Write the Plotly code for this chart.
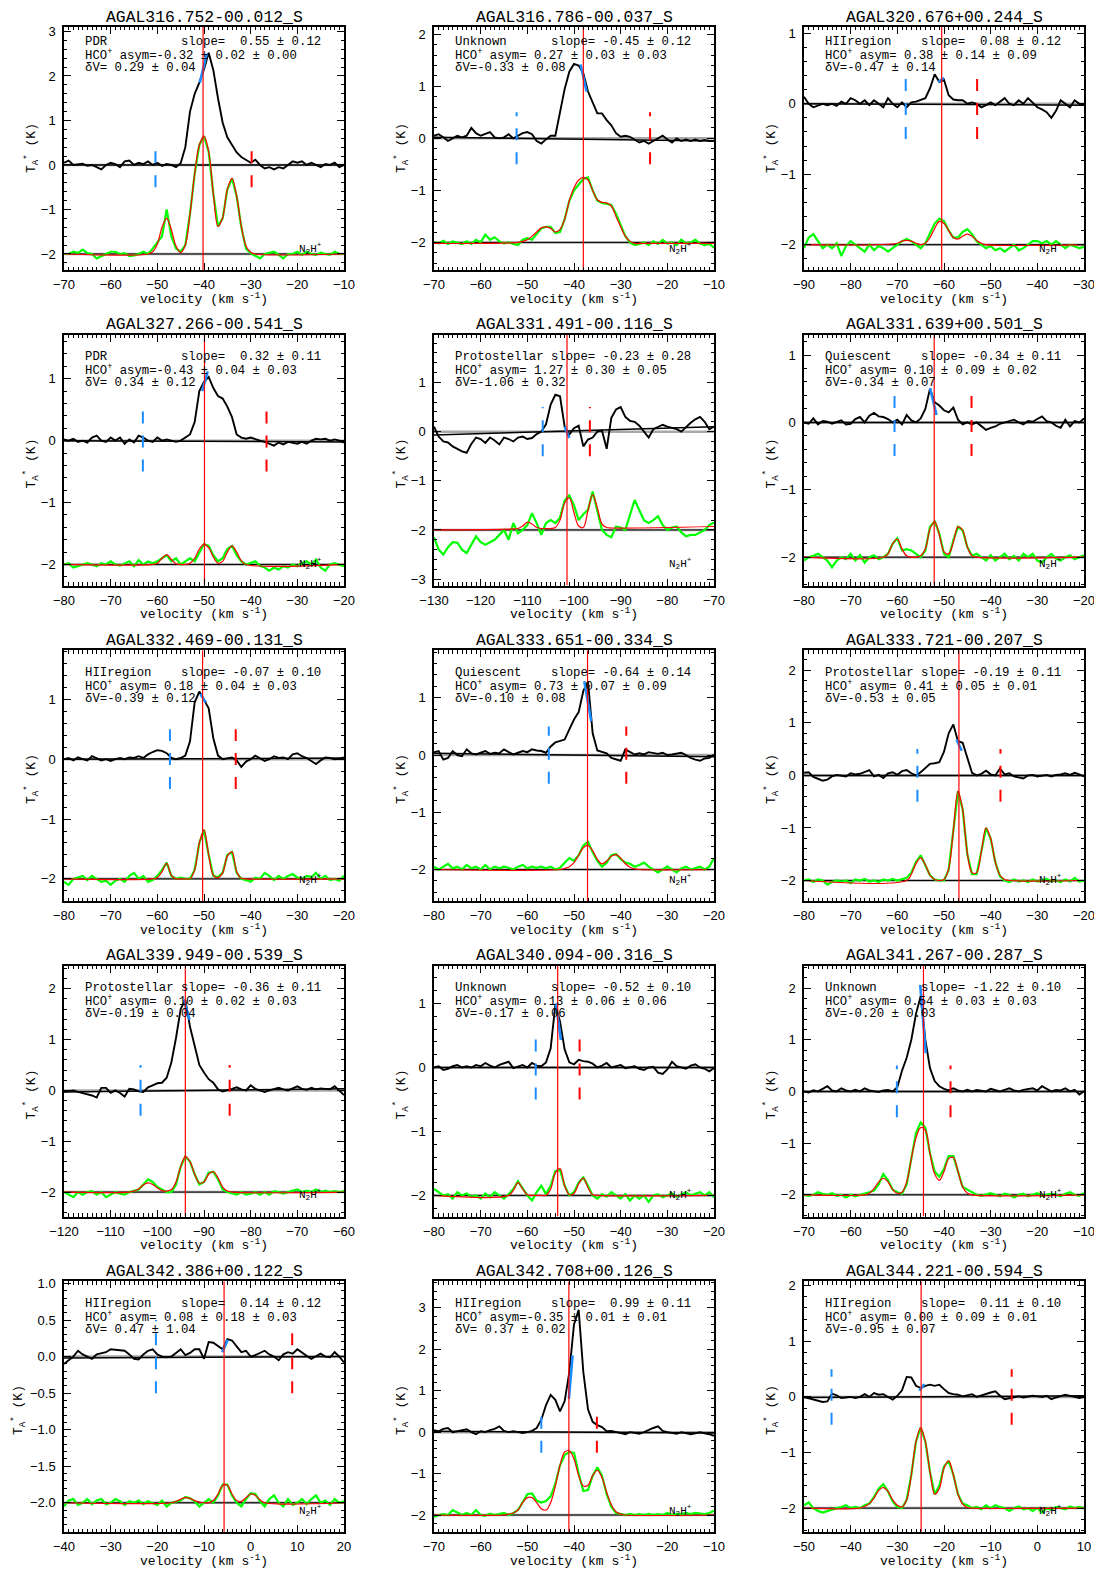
import plotly.graph_objects as go

# reference geometry in pixels; the page body adds an 8px margin, so the
# figure is made 8px smaller and every reference position is shifted by it
PAGE_W, PAGE_H = 1102, 1576
BODY = 8
W, H = PAGE_W - BODY, PAGE_H - BODY
COL_X = [64, 434, 804]
ROW_Y = [27.0, 334.8, 650.3, 965.8, 1281.3]
ROW_B = [270.0, 585.5, 901.0, 1216.5, 1532.0]
TITLE_GAP = [9, 10, 10, 10, 10]
PW = 280
MONO = "Liberation Mono"
SANS = "Liberation Sans"
NB = "\u00a0"

BLUE = "#1a8cff"
GREEN = "#00ff00"
RED = "#ff0000"

chan_width = 1.0  # km/s, spectra below are sampled on this grid starting at v_lo

titles = ["AGAL316.752-00.012_S", "AGAL316.786-00.037_S", "AGAL320.676+00.244_S",
          "AGAL327.266-00.541_S", "AGAL331.491-00.116_S", "AGAL331.639+00.501_S",
          "AGAL332.469-00.131_S", "AGAL333.651-00.334_S", "AGAL333.721-00.207_S",
          "AGAL339.949-00.539_S", "AGAL340.094-00.316_S", "AGAL341.267-00.287_S",
          "AGAL342.386+00.122_S", "AGAL342.708+00.126_S", "AGAL344.221-00.594_S"]
classes = ["PDR", "Unknown", "HIIregion", "PDR", "Protostellar", "Quiescent",
           "HIIregion", "Quiescent", "Protostellar", "Protostellar", "Unknown", "Unknown",
           "HIIregion", "HIIregion", "HIIregion"]
slopes = [0.55, -0.45, 0.08, 0.32, -0.23, -0.34, -0.07, -0.64, -0.19, -0.36, -0.52, -1.22, 0.14, 0.99, 0.11]
slope_errs = [0.12, 0.12, 0.12, 0.11, 0.28, 0.11, 0.10, 0.14, 0.11, 0.11, 0.10, 0.10, 0.12, 0.11, 0.10]
asyms = [-0.32, 0.27, 0.38, -0.43, 1.27, 0.10, 0.18, 0.73, 0.41, 0.10, 0.13, 0.54, 0.08, -0.35, 0.00]
asym_err1 = [0.02, 0.03, 0.14, 0.04, 0.30, 0.09, 0.04, 0.07, 0.05, 0.02, 0.06, 0.03, 0.18, 0.01, 0.09]
asym_err2 = [0.00, 0.03, 0.09, 0.03, 0.05, 0.02, 0.03, 0.09, 0.01, 0.03, 0.06, 0.03, 0.03, 0.01, 0.01]
dvs = [0.29, -0.33, -0.47, 0.34, -1.06, -0.34, -0.39, -0.10, -0.53, -0.19, -0.17, -0.20, 0.47, 0.37, -0.95]
dv_errs = [0.04, 0.08, 0.14, 0.12, 0.32, 0.07, 0.12, 0.08, 0.05, 0.04, 0.06, 0.03, 1.04, 0.02, 0.07]

v_lo = [-70, -70, -90, -80, -130, -80, -80, -80, -80, -120, -80, -70, -40, -70, -50]
v_hi = [-10, -10, -30, -20, -70, -20, -20, -20, -20, -60, -20, -10, 20, -10, 10]
y_lo = [-2.36, -2.53, -2.36, -2.34, -3.13, -2.42, -2.37, -2.55, -2.39, -2.48, -2.33, -2.42, -2.40, -2.41, -2.43]
y_hi = [3.10, 2.14, 1.09, 1.71, 1.97, 1.30, 1.82, 1.83, 2.38, 2.45, 1.59, 2.43, 1.03, 3.64, 2.08]

v_sys = [-40.2, -38.0, -60.5, -49.9, -101.5, -52.1, -50.3, -47.1, -46.8, -94.0, -53.5, -44.4, -5.7, -41.1, -24.9]
v_blue = [-50.4, -52.3, -68.2, -63.1, -106.7, -60.6, -57.3, -55.4, -55.7, -103.6, -58.2, -50.1, -20.3, -47.0, -44.1]
v_red = [-29.8, -23.7, -52.9, -36.6, -96.6, -44.1, -43.2, -38.8, -37.9, -84.5, -48.8, -38.6, 8.9, -35.1, -5.5]

# fitted slope segment on the HCO+ line (start / end)
slope_v1 = [-40.9, -38.6, -61.2, -50.4, -102.0, -53.0, -50.8, -47.8, -47.3, -94.3, -53.9, -45.1, -6.1, -41.1, -25.3]
slope_t1 = [1.85, 1.42, 0.31, 0.80, 0.10, 0.51, 1.09, 1.29, 0.68, 1.78, 1.00, 2.06, 0.06, 0.80, 0.11]
slope_v2 = [-39.4, -37.3, -60.0, -49.2, -101.0, -51.6, -49.6, -46.3, -46.2, -93.1, -52.8, -43.9, -4.9, -40.3, -24.2]
slope_t2 = [2.50, 0.90, 0.37, 1.12, -0.13, 0.11, 0.95, 0.59, 0.47, 1.39, 0.43, 0.74, 0.23, 1.85, 0.23]

# HCO+ baseline at the left / right edge
base_l = [0.0, 0.02, 0.0, 0.0, -0.07, 0.0, 0.0, 0.03, 0.0, -0.03, 0.0, 0.0, -0.02, 0.02, -0.01]
base_r = [0.0, -0.05, -0.02, -0.02, 0.10, 0.0, 0.02, -0.03, 0.0, 0.03, 0.0, 0.0, 0.0, -0.02, 0.02]

# N2H+ fit: first channel of the fitted region and baseline at the edges
fit_start = [-52, -52, -70, -61, -113, -63, -61, -53, -58, -106, -64, -57, -17, -55, -38]
fit_edge_l = [0.0, -0.02, 0.0, 0.0, 0.0, 0.0, 0.0, 0.0, 0.0, 0.0, 0.0, 0.0, 0.0, 0.0, 0.0]
fit_edge_r = [0.0, -0.02, 0.0, 0.0, 0.07, 0.0, 0.0, 0.0, 0.0, 0.0, 0.0, 0.0, 0.0, 0.0, 0.0]

# ---- HCO+ spectra (K) ----
hco_01 = [0.05, 0.10, 0.00, 0.02, 0.03, -0.02, 0.00, -0.05, -0.10, 0.00,
          0.05, 0.02, -0.05, 0.08, 0.10, 0.00, 0.05, 0.02, 0.08, 0.00,
          0.05, -0.02, 0.02, 0.00, -0.05, 0.04, 0.40, 1.20, 1.60, 1.85,
          2.15, 2.52, 2.13, 1.50, 0.95, 0.62, 0.45, 0.28, 0.18, 0.12,
          0.05, 0.12, 0.00, -0.08, -0.05, -0.10, -0.05, -0.08, 0.00, 0.08,
          0.05, 0.08, 0.00, 0.05, 0.00, -0.05, 0.02, 0.00, 0.05, -0.05, 0.00]
hco_02 = [0.05, 0.08, 0.02, -0.05, 0.00, 0.05, 0.02, 0.05, 0.20, 0.10,
          0.05, 0.08, 0.12, 0.02, 0.00, 0.02, 0.08, 0.00, 0.05, 0.10,
          0.12, 0.08, -0.05, -0.10, -0.02, 0.05, 0.05, 0.50, 0.95, 1.28,
          1.43, 1.40, 1.25, 0.90, 0.70, 0.48, 0.48, 0.35, 0.25, 0.10,
          0.03, 0.05, 0.03, -0.02, -0.08, -0.05, -0.10, -0.05, 0.00, 0.05,
          -0.02, -0.08, 0.00, -0.05, -0.02, -0.05, -0.02, -0.05, -0.03, -0.05, -0.05]
hco_03 = [0.10, 0.00, -0.05, -0.03, 0.00, -0.02, 0.00, -0.03, 0.03, 0.00,
          0.08, 0.05, 0.00, 0.05, -0.02, 0.05, 0.00, -0.05, 0.08, 0.00,
          -0.05, 0.02, -0.05, 0.02, 0.03, 0.05, 0.08, 0.22, 0.42, 0.31,
          0.34, 0.12, 0.06, 0.05, 0.05, 0.00, 0.02, 0.00, -0.05, -0.02,
          0.02, -0.02, 0.03, 0.08, 0.00, -0.02, 0.05, 0.00, 0.08, 0.02,
          -0.05, -0.08, -0.12, -0.20, -0.10, 0.05, 0.00, -0.05, 0.05, 0.00, -0.02]
hco_04 = [0.02, 0.00, 0.03, -0.02, 0.00, -0.03, 0.05, 0.08, 0.00, -0.02,
          0.05, 0.00, 0.05, -0.05, 0.02, -0.03, 0.08, 0.05, 0.00, -0.02,
          0.05, 0.00, 0.02, 0.00, -0.02, 0.00, 0.05, 0.10, 0.30, 0.80,
          0.95, 1.03, 0.85, 0.72, 0.68, 0.55, 0.38, 0.10, 0.05, 0.03,
          0.05, 0.02, 0.00, -0.02, -0.05, -0.08, -0.03, -0.06, -0.02, -0.04,
          -0.05, -0.02, -0.05, 0.00, 0.03, 0.02, 0.03, 0.00, 0.02, 0.00, -0.03]
hco_05 = [0.10, -0.10, -0.20, -0.22, -0.30, -0.35, -0.40, -0.43, -0.25, -0.12,
          -0.15, -0.23, -0.12, -0.18, -0.26, -0.12, -0.15, -0.20, -0.12, -0.10,
          -0.15, -0.13, -0.05, 0.00, 0.15, 0.55, 0.75, 0.72, 0.10, -0.06,
          0.07, 0.12, -0.30, -0.16, -0.12, 0.00, 0.02, -0.35, 0.28, 0.45,
          0.50, 0.30, 0.22, 0.20, 0.12, 0.00, -0.12, 0.05, 0.10, 0.14,
          0.10, 0.07, 0.05, 0.00, 0.10, 0.18, 0.25, 0.30, 0.20, 0.05, 0.10]
hco_06 = [0.00, -0.02, 0.06, -0.03, 0.02, 0.01, -0.02, 0.00, 0.03, -0.03,
          -0.02, 0.05, 0.08, 0.00, 0.10, 0.14, 0.09, 0.08, 0.05, 0.00,
          0.04, -0.03, 0.11, 0.03, 0.00, 0.06, 0.20, 0.50, 0.30, 0.25,
          0.18, 0.15, 0.22, 0.04, -0.03, 0.00, -0.03, 0.00, -0.05, -0.11,
          -0.08, -0.06, -0.02, 0.00, 0.03, 0.04, 0.00, -0.03, 0.02, 0.01,
          0.05, 0.09, 0.02, 0.00, -0.05, -0.08, 0.04, -0.06, 0.02, 0.00, 0.06]
hco_07 = [0.00, 0.02, -0.02, 0.03, 0.00, -0.02, 0.05, 0.02, -0.02, 0.00,
          -0.03, 0.00, 0.02, 0.00, 0.03, 0.02, 0.05, 0.02, 0.08, 0.12,
          0.15, 0.14, 0.10, 0.02, 0.00, 0.02, 0.06, 0.30, 0.95, 1.13,
          1.00, 0.85, 0.35, 0.06, 0.00, 0.02, 0.03, -0.02, -0.13, -0.04,
          0.00, 0.06, 0.02, -0.03, 0.00, 0.05, 0.02, 0.03, 0.00, 0.08,
          0.10, 0.05, 0.02, -0.03, -0.08, -0.02, 0.03, 0.02, 0.00, 0.01, 0.03]
hco_08 = [0.05, 0.07, -0.08, -0.05, 0.07, 0.00, -0.02, 0.10, 0.03, 0.01,
          0.04, 0.07, 0.02, 0.04, 0.03, 0.10, 0.05, 0.01, 0.04, 0.07,
          0.05, 0.10, 0.08, 0.07, 0.04, 0.15, 0.22, 0.25, 0.27, 0.45,
          0.62, 0.75, 1.12, 1.28, 0.38, 0.08, 0.05, 0.03, -0.05, -0.08,
          -0.10, 0.10, 0.05, 0.01, 0.03, 0.01, 0.05, 0.04, 0.02, 0.04,
          0.00, 0.01, 0.03, 0.04, 0.00, -0.05, -0.08, -0.10, -0.06, -0.05, 0.01]
hco_09 = [0.05, 0.06, -0.03, -0.06, -0.10, -0.08, -0.02, 0.01, 0.00, -0.02,
          0.04, 0.02, 0.03, 0.06, 0.10, -0.02, 0.01, -0.05, 0.04, 0.06,
          0.01, 0.08, 0.10, 0.04, 0.00, 0.06, 0.15, 0.22, 0.23, 0.25,
          0.45, 0.80, 0.97, 0.65, 0.62, 0.35, 0.05, 0.00, 0.03, 0.09,
          0.02, 0.00, 0.13, 0.02, 0.04, -0.02, -0.04, -0.06, 0.00, 0.01,
          -0.02, 0.00, 0.01, -0.02, 0.01, 0.02, 0.04, 0.01, 0.05, 0.02, -0.02]
hco_10 = [-0.03, -0.02, 0.00, -0.03, -0.05, -0.08, -0.10, -0.14, 0.05, 0.05,
          -0.05, 0.00, -0.05, -0.12, 0.03, 0.02, -0.02, -0.03, 0.06, 0.10,
          0.14, 0.15, 0.25, 0.55, 1.03, 1.60, 1.78, 1.25, 0.85, 0.50,
          0.35, 0.22, 0.15, 0.02, -0.02, 0.00, 0.03, 0.06, 0.02, 0.00,
          0.10, 0.03, 0.00, -0.03, 0.00, 0.02, 0.05, 0.02, 0.00, 0.04,
          0.08, 0.03, 0.01, 0.05, 0.02, 0.04, 0.03, 0.02, 0.08, 0.00, -0.09]
hco_11 = [0.00, 0.02, -0.04, -0.02, 0.02, 0.04, 0.00, 0.02, 0.00, 0.04,
          0.02, 0.07, 0.03, 0.00, 0.04, 0.07, 0.09, -0.01, 0.02, 0.04,
          0.00, 0.07, 0.03, 0.02, 0.08, 0.30, 0.98, 0.72, 0.28, 0.08,
          0.05, 0.12, 0.10, 0.09, 0.06, 0.00, 0.03, 0.07, 0.00, 0.02,
          0.04, -0.01, 0.00, 0.02, -0.02, -0.04, 0.00, 0.01, -0.08, -0.10,
          -0.03, 0.09, 0.02, 0.00, -0.02, 0.03, 0.05, 0.00, -0.02, -0.06, -0.01]
hco_12 = [0.00, -0.02, 0.02, 0.00, 0.05, 0.10, 0.02, 0.00, 0.06, 0.02,
          0.00, 0.03, 0.00, 0.06, 0.02, 0.00, -0.01, 0.02, 0.03, 0.00,
          0.08, 0.40, 0.65, 1.00, 1.50, 1.84, 1.00, 0.45, 0.20, 0.10,
          0.05, 0.02, 0.06, 0.02, 0.00, 0.03, 0.00, 0.03, 0.01, 0.00,
          0.05, 0.02, 0.00, 0.03, 0.06, 0.02, 0.00, 0.03, 0.05, 0.06,
          0.02, 0.10, 0.05, 0.00, 0.03, 0.02, 0.06, 0.00, 0.03, -0.06, 0.00]
hco_13 = [-0.10, -0.05, 0.00, 0.08, 0.03, 0.00, -0.03, 0.03, 0.05, 0.06,
          0.10, 0.09, 0.08, 0.08, 0.03, -0.03, -0.04, 0.03, 0.08, 0.10,
          0.03, 0.00, -0.01, 0.00, 0.05, 0.10, 0.02, 0.05, 0.10, 0.10,
          -0.03, 0.20, 0.19, 0.14, 0.10, 0.24, 0.22, 0.14, 0.06, 0.08,
          0.00, 0.02, 0.05, 0.08, 0.03, 0.00, -0.05, 0.03, 0.06, 0.04,
          0.10, 0.05, 0.01, -0.03, 0.00, 0.04, 0.00, -0.01, 0.06, 0.00, -0.08]
hco_14 = [0.05, 0.02, 0.08, 0.10, 0.00, 0.02, 0.05, 0.07, 0.00, -0.05,
          0.02, 0.00, 0.05, 0.08, 0.14, 0.03, 0.00, 0.02, 0.00, -0.02,
          0.00, 0.03, 0.10, 0.30, 0.65, 0.90, 0.78, 0.50, 0.75, 1.45,
          2.60, 2.95, 1.45, 0.55, 0.25, 0.17, 0.12, 0.02, 0.03, 0.00,
          -0.03, -0.05, 0.00, -0.02, -0.04, 0.00, 0.06, 0.10, 0.14, 0.03,
          0.00, -0.02, -0.04, 0.00, -0.02, -0.05, -0.03, 0.00, -0.03, -0.05, -0.09]
hco_15 = [0.00, -0.02, -0.04, -0.06, -0.09, -0.08, 0.06, 0.03, -0.02, -0.01,
          0.00, -0.02, 0.00, 0.05, 0.00, 0.07, 0.04, 0.05, 0.00, -0.05,
          0.02, 0.12, 0.36, 0.35, 0.20, 0.16, 0.20, 0.22, 0.20, 0.22,
          0.14, 0.07, 0.05, 0.04, 0.01, 0.03, 0.05, 0.00, 0.03, 0.06,
          0.08, 0.10, 0.02, -0.04, -0.02, 0.00, 0.01, -0.01, 0.00, 0.02,
          0.01, 0.00, 0.02, -0.04, -0.01, 0.02, 0.04, 0.02, 0.00, -0.02, 0.00]

# ---- N2H+ spectra (K, plotted with an offset of -2) ----
n2h_01 = [0.00, 0.00, 0.05, 0.02, 0.10, 0.02, 0.00, -0.10, -0.05, 0.00,
          0.05, 0.05, 0.00, 0.02, -0.05, -0.03, 0.00, 0.05, 0.00, 0.12,
          0.25, 0.40, 1.00, 0.40, 0.12, 0.05, 0.20, 0.90, 1.80, 2.45,
          2.65, 2.30, 1.35, 0.62, 0.80, 1.45, 1.70, 1.30, 0.60, 0.12,
          0.02, -0.05, -0.10, 0.00, 0.02, 0.05, -0.02, -0.10, 0.00, 0.00,
          0.05, -0.02, 0.05, 0.00, -0.02, 0.03, 0.00, -0.02, 0.05, 0.00, 0.00]
n2h_02 = [0.00, -0.02, 0.03, -0.03, 0.02, 0.00, -0.03, 0.02, -0.03, 0.05,
          0.00, 0.15, 0.05, 0.10, 0.02, -0.02, 0.00, -0.03, -0.05, 0.05,
          0.08, 0.05, 0.15, 0.27, 0.30, 0.30, 0.18, 0.20, 0.45, 0.80,
          1.00, 1.10, 1.22, 1.25, 1.00, 0.80, 0.76, 0.74, 0.72, 0.55,
          0.35, 0.12, 0.00, -0.05, -0.03, 0.00, -0.05, 0.02, -0.03, 0.05,
          -0.02, 0.00, -0.05, 0.05, -0.02, 0.00, 0.05, -0.02, -0.05, -0.03, -0.10]
n2h_03 = [-0.05, 0.10, 0.15, 0.05, -0.05, 0.00, -0.05, 0.02, -0.16, -0.02,
          0.05, 0.00, -0.05, -0.10, 0.00, -0.08, -0.02, -0.05, -0.10, -0.05,
          0.00, 0.05, 0.08, 0.05, 0.00, -0.05, 0.02, 0.15, 0.30, 0.37,
          0.33, 0.20, 0.10, 0.10, 0.18, 0.22, 0.15, 0.05, 0.00, -0.05,
          -0.02, -0.08, -0.05, -0.10, -0.05, 0.00, -0.08, -0.05, 0.00, 0.05,
          0.05, 0.02, 0.05, 0.00, 0.05, 0.00, -0.05, 0.00, -0.02, -0.05, -0.03]
n2h_04 = [0.00, 0.02, -0.05, -0.03, 0.00, 0.02, 0.00, -0.03, 0.02, 0.00,
          0.05, 0.00, -0.02, 0.02, 0.05, -0.03, 0.07, 0.00, 0.05, 0.02,
          0.05, 0.10, 0.15, 0.05, 0.10, 0.00, 0.05, 0.10, 0.05, 0.20,
          0.33, 0.30, 0.15, 0.05, 0.10, 0.25, 0.30, 0.15, 0.05, 0.00,
          0.03, 0.05, -0.02, -0.05, -0.10, -0.05, -0.08, -0.03, -0.05, 0.00,
          -0.03, 0.02, 0.05, 0.00, 0.08, -0.05, -0.10, 0.00, 0.02, 0.00, -0.03]
n2h_05 = [-0.15, -0.40, -0.50, -0.35, -0.25, -0.26, -0.40, -0.47, -0.30, -0.13,
          -0.25, -0.30, -0.25, -0.20, -0.10, 0.00, -0.20, 0.14, -0.07, 0.00,
          0.10, 0.34, 0.14, -0.10, 0.14, 0.20, 0.14, 0.25, 0.60, 0.70,
          0.50, 0.20, 0.32, 0.41, 0.78, 0.40, 0.00, -0.10, -0.15, 0.07,
          0.05, 0.00, 0.30, 0.61, 0.40, 0.20, 0.14, 0.20, 0.28, 0.10,
          0.00, 0.05, 0.07, -0.05, -0.13, -0.10, -0.10, -0.05, 0.00, 0.10, 0.15]
n2h_06 = [-0.05, 0.00, 0.02, 0.05, 0.00, -0.05, -0.15, -0.05, 0.00, -0.03,
          0.05, -0.05, 0.03, -0.08, 0.00, 0.03, -0.03, 0.00, 0.05, 0.20,
          0.28, 0.10, 0.12, 0.10, 0.05, 0.00, 0.10, 0.45, 0.53, 0.35,
          0.05, 0.00, 0.25, 0.45, 0.40, 0.15, 0.02, 0.05, 0.00, -0.05,
          0.03, -0.05, 0.00, 0.05, -0.03, 0.02, -0.05, 0.05, 0.00, 0.05,
          -0.05, -0.08, 0.00, 0.05, -0.02, -0.05, 0.00, 0.03, -0.03, 0.00, 0.03]
n2h_07 = [-0.05, -0.10, 0.00, 0.02, 0.05, -0.02, 0.05, 0.00, -0.05, -0.03,
          -0.10, -0.03, 0.00, -0.05, 0.05, 0.10, 0.00, 0.05, -0.05, -0.02,
          0.05, 0.15, 0.27, 0.05, 0.00, 0.02, 0.00, 0.00, 0.15, 0.60,
          0.82, 0.40, 0.05, 0.03, 0.10, 0.40, 0.45, 0.10, 0.00, -0.02,
          -0.05, 0.02, 0.00, 0.10, 0.05, -0.02, 0.05, 0.00, 0.05, 0.08,
          0.02, 0.00, 0.05, 0.03, 0.10, 0.00, 0.05, -0.02, 0.00, -0.03, 0.05]
n2h_08 = [0.05, 0.00, 0.05, 0.10, 0.02, 0.05, 0.00, 0.08, 0.02, 0.05,
          0.00, 0.08, 0.00, 0.05, 0.02, 0.05, 0.03, 0.00, 0.05, 0.08,
          0.02, 0.05, 0.03, 0.05, 0.02, 0.05, 0.00, 0.03, 0.12, 0.20,
          0.15, 0.25, 0.42, 0.48, 0.30, 0.15, 0.05, 0.12, 0.25, 0.27,
          0.18, 0.12, 0.10, 0.05, 0.08, 0.12, 0.05, 0.00, -0.05, 0.00,
          0.05, 0.00, -0.05, 0.02, 0.05, 0.00, 0.02, 0.05, 0.00, 0.05, 0.20]
n2h_09 = [0.00, 0.02, -0.03, 0.02, 0.00, -0.08, -0.03, 0.00, -0.02, 0.00,
          -0.05, 0.02, 0.00, 0.03, -0.02, 0.00, -0.03, 0.02, 0.00, 0.03,
          0.00, 0.02, 0.05, 0.15, 0.35, 0.48, 0.30, 0.10, 0.02, 0.00,
          0.00, 0.20, 0.95, 1.70, 1.35, 0.50, 0.12, 0.12, 0.55, 1.00,
          0.80, 0.35, 0.08, 0.00, -0.03, 0.02, -0.02, 0.00, -0.03, 0.02,
          -0.02, 0.00, 0.03, -0.02, 0.00, -0.03, 0.02, -0.02, 0.05, -0.02, 0.00]
n2h_10 = [0.00, -0.05, -0.10, 0.00, -0.05, 0.00, 0.02, -0.05, 0.00, -0.10,
          -0.05, 0.00, -0.03, -0.05, 0.00, 0.02, 0.05, 0.15, 0.25, 0.20,
          0.10, 0.05, 0.00, 0.00, 0.15, 0.50, 0.70, 0.60, 0.35, 0.15,
          0.20, 0.38, 0.40, 0.25, 0.05, 0.00, -0.03, -0.05, 0.00, -0.05,
          -0.03, 0.00, -0.05, 0.00, -0.05, 0.02, 0.00, -0.03, 0.00, 0.02,
          0.05, 0.00, 0.03, 0.00, 0.05, 0.00, 0.03, 0.00, 0.02, 0.00, 0.02]
n2h_11 = [0.10, 0.05, 0.00, 0.02, -0.05, 0.05, 0.00, 0.03, -0.02, 0.00,
          -0.05, 0.03, -0.03, 0.05, 0.00, -0.05, 0.02, 0.10, 0.22, 0.10,
          0.00, -0.08, 0.05, 0.15, 0.02, 0.15, 0.38, 0.40, 0.15, 0.00,
          0.05, 0.20, 0.28, 0.15, 0.00, -0.05, 0.02, -0.02, 0.05, 0.00,
          -0.05, 0.02, -0.08, 0.00, -0.05, 0.00, -0.10, 0.00, 0.02, -0.03,
          0.00, 0.03, -0.02, 0.02, 0.05, 0.00, 0.03, 0.05, 0.00, 0.05, -0.03]
n2h_12 = [0.00, -0.02, 0.00, 0.05, 0.02, 0.00, 0.03, -0.02, 0.00, -0.05,
          0.00, -0.03, 0.00, 0.02, 0.05, 0.08, 0.20, 0.40, 0.28, 0.10,
          0.05, 0.02, 0.20, 0.70, 1.20, 1.40, 1.30, 0.80, 0.45, 0.35,
          0.50, 0.75, 0.75, 0.45, 0.15, 0.10, 0.05, 0.00, -0.02, 0.00,
          0.03, 0.00, -0.03, 0.02, 0.00, -0.05, 0.00, 0.02, -0.03, 0.00,
          0.03, -0.02, 0.00, 0.02, 0.00, -0.03, 0.02, 0.05, 0.00, -0.02, 0.03]
n2h_13 = [-0.05, 0.03, 0.05, -0.03, 0.00, 0.05, -0.02, 0.03, 0.05, -0.02,
          0.00, 0.05, 0.02, -0.03, 0.02, 0.00, 0.03, -0.02, 0.02, 0.00,
          -0.03, 0.03, -0.05, 0.00, 0.02, 0.03, 0.08, 0.06, 0.02, -0.05,
          0.00, 0.05, 0.00, 0.10, 0.25, 0.25, 0.10, 0.00, -0.05, 0.05,
          0.13, 0.12, 0.02, -0.05, 0.05, 0.10, 0.00, -0.05, 0.05, -0.03,
          0.00, 0.05, -0.02, 0.05, 0.10, 0.00, 0.03, -0.03, 0.05, 0.00, 0.02]
n2h_14 = [-0.05, 0.00, 0.02, 0.00, 0.12, 0.05, 0.00, 0.05, 0.00, 0.12,
          0.00, -0.02, 0.03, 0.00, 0.02, 0.05, 0.00, 0.05, 0.12, 0.30,
          0.50, 0.52, 0.35, 0.30, 0.34, 0.45, 0.75, 1.20, 1.45, 1.52,
          1.50, 1.00, 0.58, 0.60, 0.95, 1.15, 0.95, 0.50, 0.20, 0.05,
          0.02, 0.00, 0.03, 0.00, 0.02, 0.00, 0.03, 0.00, 0.02, 0.00,
          0.05, 0.00, 0.03, 0.02, 0.05, 0.02, 0.05, 0.03, 0.02, 0.05, 0.10]
n2h_15 = [0.05, 0.10, 0.00, -0.05, -0.08, -0.05, -0.02, 0.00, 0.02, 0.05,
          0.00, 0.02, 0.00, 0.05, 0.08, 0.20, 0.35, 0.43, 0.30, 0.12,
          0.02, 0.00, 0.15, 0.60, 1.20, 1.45, 1.20, 0.65, 0.25, 0.40,
          0.75, 0.85, 0.60, 0.25, 0.08, 0.05, 0.00, 0.02, -0.02, 0.05,
          0.00, 0.05, 0.02, 0.00, -0.05, 0.00, 0.03, -0.02, 0.00, -0.05,
          0.00, -0.08, 0.00, -0.03, 0.02, 0.00, -0.02, 0.03, 0.00, 0.02, 0.00]

# ---- N2H+ hyperfine fits (K) from fit_start on ----
fit_01 = [0.0, 0.05, 0.22, 0.60, 0.80, 0.55, 0.18, 0.03, 0.20, 0.90, 1.80, 2.45,
          2.65, 2.30, 1.35, 0.62, 0.82, 1.45, 1.70, 1.30, 0.62, 0.18, 0.04, 0.0]
fit_02 = [0.0, 0.02, 0.05, 0.12, 0.20, 0.28, 0.30, 0.27, 0.20, 0.25, 0.45, 0.80, 1.05,
          1.20, 1.25, 1.20, 1.00, 0.82, 0.77, 0.76, 0.70, 0.50, 0.30, 0.12, 0.02, -0.02, -0.02]
fit_03 = [0.02, 0.05, 0.06, 0.05, 0.02, 0.0, 0.02, 0.10, 0.23, 0.33, 0.30, 0.20,
          0.10, 0.08, 0.12, 0.15, 0.12, 0.06, 0.02, 0.0]
fit_04 = [0.0, 0.02, 0.10, 0.16, 0.08, 0.01, 0.0, 0.0, 0.02, 0.10, 0.25, 0.33,
          0.27, 0.12, 0.02, 0.05, 0.20, 0.30, 0.20, 0.06, 0.0]
fit_05 = [0.02, 0.03, 0.08, 0.16, 0.12, 0.05, 0.03, 0.03, 0.03, 0.05, 0.20,
          0.55, 0.65, 0.35, 0.08, 0.05, 0.40, 0.72, 0.45, 0.12, 0.05, 0.04]
fit_06 = [0.0, 0.05, 0.20, 0.27, 0.12, 0.02, 0.0, 0.0, 0.02, 0.12, 0.42, 0.53,
          0.33, 0.08, 0.05, 0.22, 0.45, 0.40, 0.15, 0.02, 0.0]
fit_07 = [0.0, 0.02, 0.12, 0.26, 0.06, 0.0, 0.0, 0.0, 0.0, 0.15, 0.60, 0.82,
          0.40, 0.06, 0.02, 0.10, 0.38, 0.45, 0.12, 0.01, 0.0]
fit_08 = [0.0, 0.02, 0.05, 0.12, 0.25, 0.38, 0.42, 0.33, 0.18, 0.10, 0.15, 0.23,
          0.26, 0.20, 0.10, 0.04, 0.01, 0.0]
fit_09 = [0.0, 0.12, 0.32, 0.43, 0.30, 0.10, 0.02, 0.0, 0.02, 0.22, 0.95, 1.70,
          1.35, 0.52, 0.15, 0.15, 0.55, 1.00, 0.80, 0.35, 0.10, 0.02, 0.0]
fit_10 = [0.0, 0.02, 0.06, 0.14, 0.18, 0.15, 0.08, 0.03, 0.02, 0.05, 0.20, 0.50,
          0.70, 0.60, 0.35, 0.18, 0.20, 0.35, 0.40, 0.28, 0.10, 0.02, 0.0]
fit_11 = [0.0, 0.08, 0.20, 0.10, 0.01, 0.0, 0.0, 0.0, 0.0, 0.10, 0.35, 0.42,
          0.15, 0.01, 0.03, 0.18, 0.27, 0.12, 0.01, 0.0]
fit_12 = [0.0, 0.03, 0.12, 0.25, 0.32, 0.25, 0.10, 0.03, 0.05, 0.25, 0.70, 1.10,
          1.30, 1.25, 0.80, 0.40, 0.28, 0.45, 0.70, 0.72, 0.45, 0.15, 0.03, 0.0]
fit_13 = [0.0, 0.02, 0.05, 0.07, 0.06, 0.03, 0.01, 0.0, 0.0, 0.03, 0.12, 0.24,
          0.24, 0.12, 0.03, 0.02, 0.07, 0.12, 0.10, 0.04, 0.0]
fit_14 = [0.0, 0.02, 0.05, 0.12, 0.30, 0.42, 0.42, 0.30, 0.15, 0.12, 0.30, 0.70, 1.20,
          1.52, 1.55, 1.35, 0.95, 0.70, 0.72, 0.95, 1.08, 0.90, 0.55, 0.25, 0.08, 0.02, 0.0]
fit_15 = [0.0, 0.03, 0.08, 0.18, 0.32, 0.37, 0.30, 0.15, 0.05, 0.02, 0.15, 0.60, 1.20,
          1.45, 1.20, 0.65, 0.25, 0.35, 0.72, 0.85, 0.60, 0.25, 0.07, 0.01, 0.0]

hco = [hco_01, hco_02, hco_03, hco_04, hco_05, hco_06, hco_07, hco_08,
       hco_09, hco_10, hco_11, hco_12, hco_13, hco_14, hco_15]
n2h = [n2h_01, n2h_02, n2h_03, n2h_04, n2h_05, n2h_06, n2h_07, n2h_08,
       n2h_09, n2h_10, n2h_11, n2h_12, n2h_13, n2h_14, n2h_15]
fits = [fit_01, fit_02, fit_03, fit_04, fit_05, fit_06, fit_07, fit_08,
        fit_09, fit_10, fit_11, fit_12, fit_13, fit_14, fit_15]

N2H_OFFSET = -2.0


def px(x):
    return (x - BODY) / W


def py(y):
    return 1 - (y - BODY) / H


def nb(s):
    return s.replace(" ", NB)


fig = go.Figure()
annotations = []
layout = {}

for i in range(15):
    row, col = divmod(i, 3)
    left, top, bottom = COL_X[col], ROW_Y[row], ROW_B[row]
    sfx = "" if i == 0 else str(i + 1)
    xa, ya = "x" + sfx, "y" + sfx
    lo, hi = v_lo[i], v_hi[i]

    vel = [lo + k * chan_width for k in range(len(hco[i]))]
    fv = [lo] + [fit_start[i] + k * chan_width for k in range(len(fits[i]))] + [hi]
    ft = [fit_edge_l[i]] + fits[i] + [fit_edge_r[i]]

    def line(x, y, color, width, dash="solid", shape="linear"):
        fig.add_trace(go.Scatter(x=x, y=y, mode="lines", xaxis=xa, yaxis=ya,
                                 line=dict(color=color, width=width, dash=dash, shape=shape),
                                 hoverinfo="skip", showlegend=False))

    # zero levels
    line([lo, hi], [0, 0], "#a8a8a8", 2.5)
    line([lo, hi], [N2H_OFFSET, N2H_OFFSET], "#a8a8a8", 2.5)
    line([lo, hi], [N2H_OFFSET, N2H_OFFSET], "black", 1.0)
    line([lo, hi], [base_l[i], base_r[i]], "black", 1.5)
    # N2H+ and fit
    line(vel, [t + N2H_OFFSET for t in n2h[i]], GREEN, 2.2)
    line(fv, [t + N2H_OFFSET for t in ft], RED, 1.2, shape="spline")
    # HCO+
    line(vel, hco[i], "black", 1.9)
    line([slope_v1[i], slope_v2[i]], [slope_t1[i], slope_t2[i]], BLUE, 2.6)
    # line-window markers
    line([v_blue[i], v_blue[i]], [-0.5, 0.5], BLUE, 2.0, dash="12px,12px")
    line([v_red[i], v_red[i]], [-0.5, 0.5], RED, 2.0, dash="12px,12px")
    # systemic velocity
    line([v_sys[i], v_sys[i]], [y_lo[i], y_hi[i]], RED, 1.2)

    ydt = 0.5 if i == 12 else 1.0
    common = dict(showline=True, mirror="allticks", linecolor="black", linewidth=1.5,
                  ticks="inside", tickcolor="black", tickwidth=1.2, ticklen=7,
                  showgrid=False, zeroline=False, automargin=False,
                  tickfont=dict(family=SANS, size=13, color="black"))
    layout["xaxis" + sfx] = dict(domain=[px(left), px(left + PW)], anchor=ya,
                                 range=[lo, hi], tick0=0, dtick=10, ticklabelstandoff=2,
                                 minor=dict(ticks="inside", dtick=1, ticklen=3.5,
                                            tickwidth=1, tickcolor="black", showgrid=False),
                                 **common)
    layout["yaxis" + sfx] = dict(domain=[py(bottom), py(top)], anchor=xa,
                                 range=[y_lo[i], y_hi[i]], tick0=0, dtick=ydt, ticklabelstandoff=4,
                                 tickformat=".1f" if i == 12 else "d",
                                 minor=dict(ticks="inside", dtick=ydt / 5, ticklen=3.5,
                                            tickwidth=1, tickcolor="black", showgrid=False),
                                 **common)

    cx = left + PW / 2
    annotations.append(dict(text=titles[i], x=px(cx), y=py(top - TITLE_GAP[row]),
                            xref="paper", yref="paper",
                            xanchor="center", yanchor="middle", showarrow=False,
                            font=dict(family=MONO, size=16.4, color="black")))
    line1 = nb(f"{classes[i]:<13}slope={slopes[i]:6.2f} ± {slope_errs[i]:4.2f}")
    line2 = "HCO<sup>+</sup>" + nb(f" asym={asyms[i]:5.2f} ± {asym_err1[i]:4.2f} ± {asym_err2[i]:4.2f}")
    line3 = nb(f"δV={dvs[i]:5.2f} ± {dv_errs[i]:4.2f}")
    text_top = 19.3 if row == 0 else top
    for k, txt in enumerate([line1, line2, line3]):
        annotations.append(dict(text=txt, x=px(left + 19), y=py(text_top + 22.5 + 13 * k),
                                xref="paper", yref="paper", xanchor="left", yanchor="middle",
                                showarrow=False, font=dict(family=MONO, size=12.3, color="black")))
    annotations.append(dict(text="velocity (km s<sup>-1</sup>)", x=px(cx), y=py(bottom + 28),
                            xref="paper", yref="paper", xanchor="center", yanchor="middle",
                            showarrow=False, font=dict(family=MONO, size=13, color="black")))
    ylab_off = 46 if i == 12 else 33
    annotations.append(dict(text="T<sub>A</sub><sup>*</sup>" + NB + "(K)", x=px(left - ylab_off),
                            y=py(bottom - 122), xref="paper", yref="paper", textangle=-90,
                            xanchor="center", yanchor="middle", showarrow=False,
                            font=dict(family=MONO, size=13, color="black")))
    annotations.append(dict(text="N<sub>2</sub>H<sup>+</sup>", x=px(left + 233),
                            y=py(bottom - 22), xref="paper", yref="paper",
                            xanchor="left", yanchor="middle", showarrow=False,
                            font=dict(family=MONO, size=11, color="black")))

fig.update_layout(**layout)
fig.update_layout(template="none", width=W, height=H, autosize=False,
                  margin=dict(l=0, r=0, t=0, b=0, pad=0),
                  paper_bgcolor="white", plot_bgcolor="white",
                  showlegend=False, hovermode=False,
                  annotations=annotations)

fig.write_html("out.html", config={"displayModeBar": False})
